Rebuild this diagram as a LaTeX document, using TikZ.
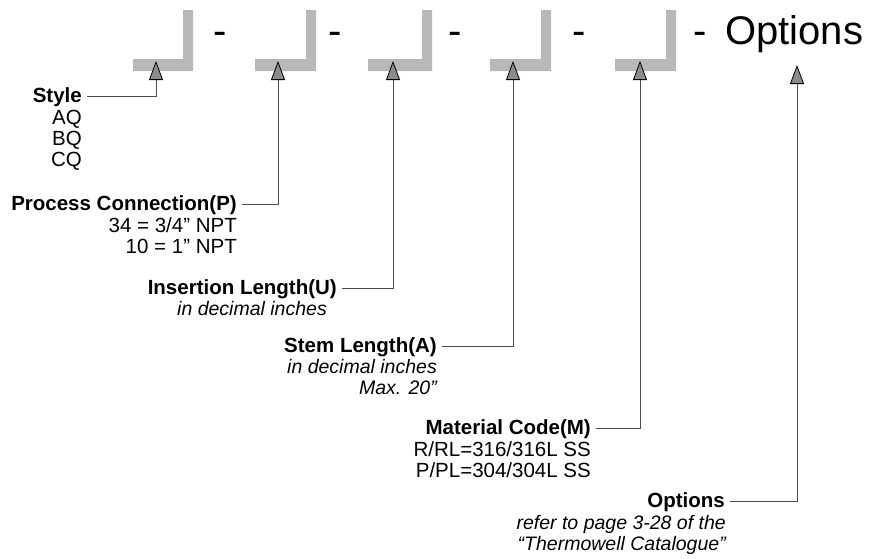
\documentclass[tikz,border=0pt]{standalone}
\usepackage{fontspec}
\setmainfont{Liberation Sans}
\usetikzlibrary{arrows.meta}

\definecolor{bargray}{gray}{0.72}
\definecolor{tipgray}{gray}{0.55}
\definecolor{wiregray}{gray}{0.3}

\tikzset{
  head/.style={font=\fontsize{40}{44}\selectfont, inner sep=0pt, anchor=base},
  field/.style={font=\fontsize{20.5}{21}\selectfont\bfseries, text height=12pt, text depth=0pt,
    inner ysep=0pt, inner xsep=5pt, anchor=east},
  values/.style={font=\fontsize{20.5}{21}\selectfont, align=right, inner ysep=0pt,
    inner xsep=5pt, anchor=north east},
  note/.style={values, font=\fontsize{19.5}{21}\selectfont\itshape},
  pointer/.style={draw=wiregray, line width=0.8pt,
    -{Triangle[length=19pt,width=14pt,color=black,fill=tipgray]}},
}

\begin{document}
\begin{tikzpicture}[x=1pt,y=-1pt]
	\useasboundingbox (0,0) rectangle (870,558);
	% blank code boxes
	\foreach \vx/\lx in {188/133,311/255,427/368,546/490,671/615} {
		\fill[bargray] (\lx,59) -- (\vx-5,59) -- (\vx-5,10) -- (\vx+5,10) -- (\vx+5,71) -- (\lx,71) -- cycle;
	}
	\foreach \x [count=\i] in {220,335,455,579,700} {
		\node[head] (dash\i) at (\x,44) {-};
	}
	\node[head, anchor=base west] (opthead) at (725,44) {Options};
	% where the pointers end
	\coordinate (tipstyle) at (156,61);
	\coordinate (tipproc) at (278,61);
	\coordinate (tipinsert) at (393,61);
	\coordinate (tipstem) at (513,61);
	\coordinate (tipmat) at (640,61);
	\coordinate (tipopt) at (797,65);
	% fields
	\node[field] (style) at (87,96) {Style};
	\node[values] (stylelist) at ([yshift=-8pt]style.south east) {AQ\\BQ\\CQ};
	\node[field] (procconn) at (242,204) {Process Connection(P)};
	\node[values] (procsizes) at ([yshift=-7pt]procconn.south east) {34 = 3/4” NPT\\10 = 1” NPT};
	\node[field] (insertlen) at (342,288) {Insertion Length(U)};
	\node[note] (insertnote) at ([xshift=-10pt,yshift=-7pt]insertlen.south east) {in decimal inches};
	\node[field] (stemlen) at (442,346) {Stem Length(A)};
	\node[note] (stemnote) at ([yshift=-7pt]stemlen.south east) {in decimal inches\\Max. 20”};
	\node[field] (material) at (596,428) {Material Code(M)};
	\node[values] (matcodes) at ([yshift=-7pt]material.south east) {R/RL=316/316L SS\\P/PL=304/304L SS};
	\node[field] (options) at (730,501) {Options};
	\node[note] (optnote) at ([xshift=1pt,yshift=-8pt]options.south east) {refer to page 3-28 of the\\“Thermowell Catalogue”};
	% pointers
	\draw[pointer] (style.east) -| (tipstyle);
	\draw[pointer] (procconn.east) -| (tipproc);
	\draw[pointer] (insertlen.east) -| (tipinsert);
	\draw[pointer] (stemlen.east) -| (tipstem);
	\draw[pointer] (material.east) -| (tipmat);
	\draw[pointer] (options.east) -| (tipopt);
\end{tikzpicture}
\end{document}
